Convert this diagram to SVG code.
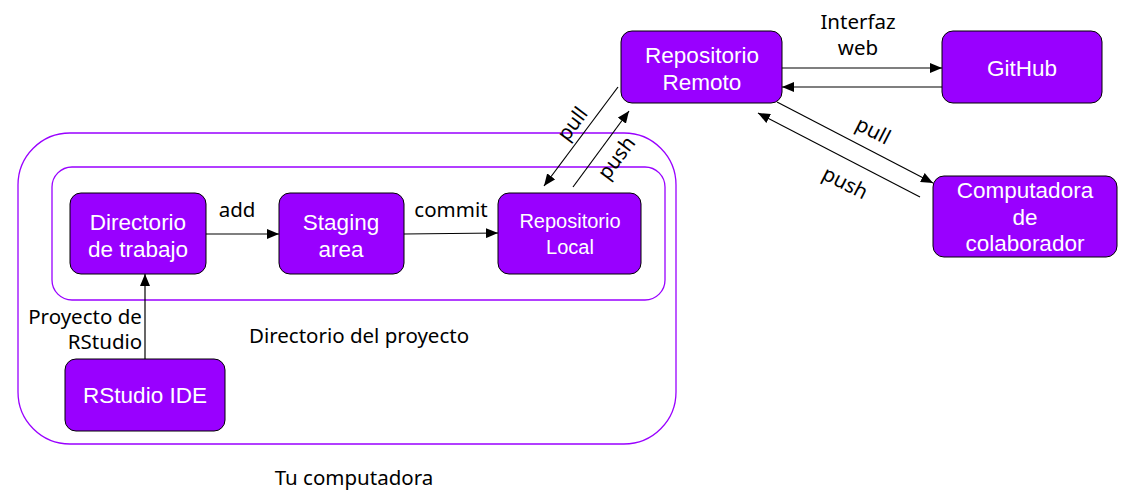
<svg xmlns="http://www.w3.org/2000/svg" width="1126" height="499" viewBox="0 0 1126 499">
<defs>
<marker id="ah" markerWidth="12" markerHeight="10" refX="12" refY="5" orient="auto" markerUnits="userSpaceOnUse">
<path d="M0,0 L12,5 L0,10 Z" fill="#000"/>
</marker>
<style>
.node{fill:#9900ff;stroke:#000;stroke-width:1}
.nt{fill:#fff;font-family:"Liberation Sans",Arial,sans-serif;font-size:22.5px;text-anchor:middle}
.lb{fill:#000;font-family:"Noto Sans","Open Sans",sans-serif;font-size:20.5px;text-anchor:middle}
.ct{fill:none;stroke:#9900ff;stroke-width:1.3}
.cn{stroke:#000;stroke-width:1.2;fill:none;marker-end:url(#ah)}
</style>
</defs>
<rect width="1126" height="499" fill="#fff"/>
<g id="tu-computadora">
<rect class="ct" x="18" y="133" width="658" height="311" rx="52"/>
<text class="lb" x="354" y="485">Tu computadora</text>
</g>
<g id="directorio-proyecto">
<rect class="ct" x="52" y="167" width="613" height="133" rx="20"/>
<text class="lb" x="359" y="343">Directorio del proyecto</text>
</g>
<g id="connectors">
<line class="cn" x1="206" y1="234" x2="279" y2="234"/>
<line class="cn" x1="404" y1="234" x2="498" y2="233"/>
<line class="cn" x1="145" y1="359" x2="145" y2="274"/>
<line class="cn" x1="782" y1="68" x2="942" y2="68"/>
<line class="cn" x1="942" y1="87" x2="782" y2="87"/>
<line class="cn" x1="618" y1="87" x2="544" y2="186"/>
<line class="cn" x1="573" y1="187" x2="629" y2="111"/>
<line class="cn" x1="777" y1="102" x2="933" y2="183"/>
<line class="cn" x1="920" y1="197" x2="758" y2="113"/>
<text class="lb" x="237" y="217">add</text>
<text class="lb" x="451" y="217">commit</text>
<text class="lb" x="85" y="324">Proyecto de</text>
<text class="lb" x="105" y="349">RStudio</text>
<text class="lb" x="858" y="29">Interfaz</text>
<text class="lb" x="858" y="55">web</text>
<text class="lb" transform="translate(578,128) rotate(-53)">pull</text>
<text class="lb" transform="translate(622,162) rotate(-53)">push</text>
<text class="lb" transform="translate(870,137) rotate(27)">pull</text>
<text class="lb" transform="translate(842,189) rotate(27)">push</text>
</g>
<g id="directorio-trabajo">
<rect class="node" x="70" y="193" width="136" height="81" rx="11"/>
<text class="nt" x="138" y="230">Directorio</text>
<text class="nt" x="138" y="257">de trabajo</text>
</g>
<g id="staging-area">
<rect class="node" x="279" y="193" width="125" height="81" rx="11"/>
<text class="nt" x="341" y="230">Staging</text>
<text class="nt" x="341" y="257">area</text>
</g>
<g id="repositorio-local">
<rect class="node" x="498" y="193" width="143" height="81" rx="11"/>
<text class="nt" x="570" y="228" style="font-size:20px">Repositorio</text>
<text class="nt" x="570" y="254" style="font-size:20px">Local</text>
</g>
<g id="rstudio-ide">
<rect class="node" x="65" y="359" width="160" height="72" rx="11"/>
<text class="nt" x="145" y="403">RStudio IDE</text>
</g>
<g id="repositorio-remoto">
<rect class="node" x="621" y="31" width="161" height="72" rx="11"/>
<text class="nt" x="702" y="63">Repositorio</text>
<text class="nt" x="702" y="90">Remoto</text>
</g>
<g id="github">
<rect class="node" x="942" y="31" width="160" height="72" rx="11"/>
<text class="nt" x="1022" y="76">GitHub</text>
</g>
<g id="computadora-colaborador">
<rect class="node" x="933" y="176" width="184" height="81" rx="11"/>
<text class="nt" x="1025" y="198">Computadora</text>
<text class="nt" x="1025" y="225">de</text>
<text class="nt" x="1025" y="251">colaborador</text>
</g>
</svg>
